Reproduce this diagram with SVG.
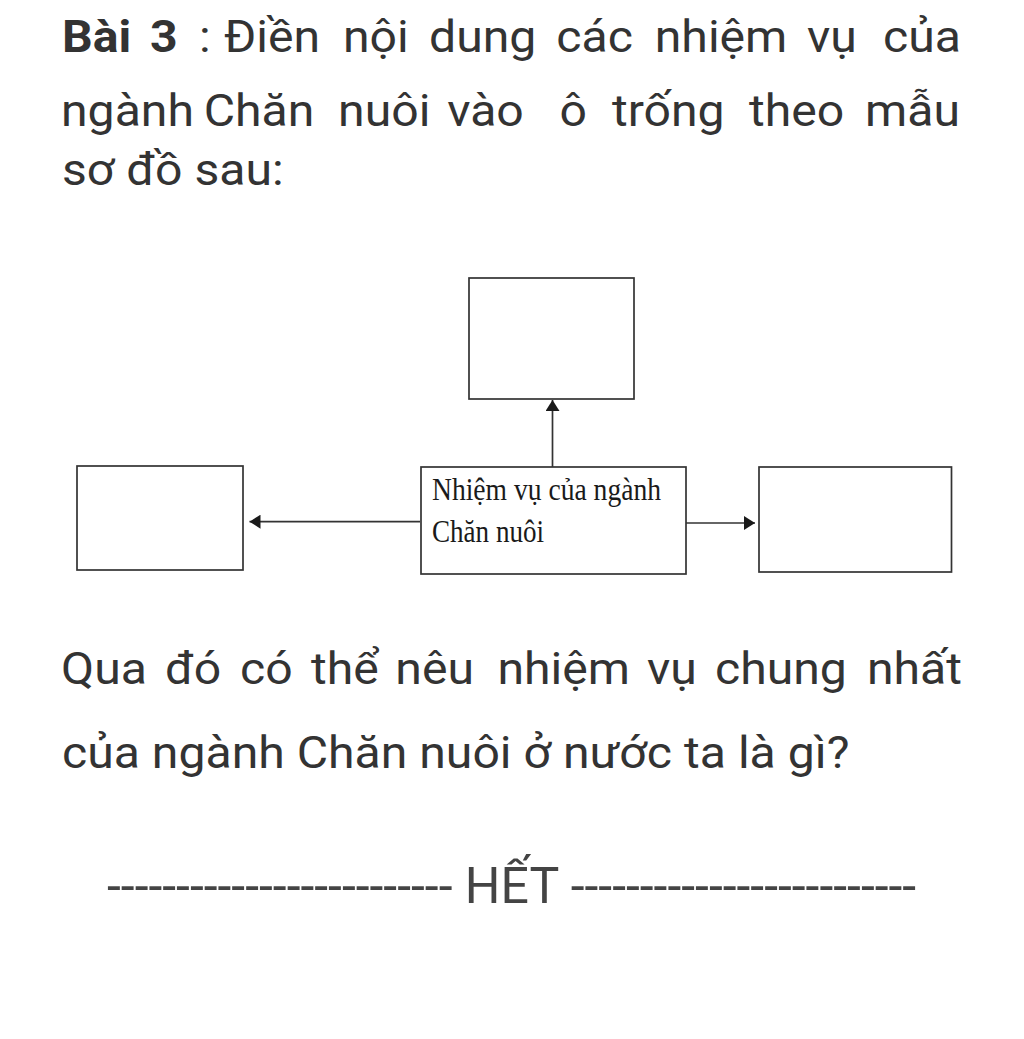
<svg xmlns="http://www.w3.org/2000/svg" width="1024" height="1039" viewBox="0 0 1024 1039">
<style>
.t{font-family:Roboto,"Noto Sans","Liberation Sans",sans-serif;font-size:45px;fill:#333}
.b{font-weight:bold}
.box{fill:#fff;stroke:#333;stroke-width:1.7}
.lbl{font-family:"Liberation Serif","Times New Roman",serif;font-size:31px;fill:#1a1a1a}
.con{stroke:#333;stroke-width:1.7;fill:none}
.end{font-family:Roboto,"Noto Sans","Liberation Sans",sans-serif;font-size:50px;fill:#444}
</style>
<defs>
<marker id="ah" markerUnits="userSpaceOnUse" markerWidth="12" markerHeight="14" refX="11" refY="7" orient="auto">
<path d="M0,0 L11,7 L0,14 Z" fill="#1a1a1a"/>
</marker>
</defs>
<rect width="1024" height="1039" fill="#fff"/>
<g id="heading" transform="matrix(1.07,0,0,1,-4.34,0)">
<text class="t" y="52.5"><tspan class="b" x="62">Bài</tspan><tspan class="b" x="144.2">3</tspan><tspan x="190">:</tspan><tspan x="213.4">Điền</tspan><tspan x="324.6">nội</tspan><tspan x="405">dung</tspan><tspan x="524">các</tspan><tspan x="616">nhiệm</tspan><tspan x="758.3">vụ</tspan><tspan x="829.3">của</tspan></text>
<text class="t" y="126"><tspan x="61.1">ngành</tspan><tspan x="194.5">Chăn</tspan><tspan x="320">nuôi</tspan><tspan x="422">vào</tspan><tspan x="527">ô</tspan><tspan x="576">trống</tspan><tspan x="704.1">theo</tspan><tspan x="812.5">mẫu</tspan></text>
<text class="t" x="62" y="185">sơ đồ sau:</text>
</g>
<g id="connectors">
<line class="con" x1="552.5" y1="467" x2="552.5" y2="400" marker-end="url(#ah)"/>
<line class="con" x1="420" y1="521.7" x2="249.5" y2="521.7" marker-end="url(#ah)"/>
<line class="con" x1="686" y1="523" x2="755" y2="523" marker-end="url(#ah)"/>
</g>
<g id="node-top"><rect class="box" x="469" y="278" width="165" height="121"/></g>
<g id="node-left"><rect class="box" x="77" y="466" width="166" height="104"/></g>
<g id="node-right"><rect class="box" x="759" y="467" width="192.5" height="105"/></g>
<g id="node-center">
<rect class="box" x="421" y="467" width="265" height="107"/>
<text class="lbl" x="432" y="500" textLength="229" lengthAdjust="spacingAndGlyphs">Nhiệm vụ của ngành</text>
<text class="lbl" x="432" y="542" textLength="112" lengthAdjust="spacingAndGlyphs">Chăn nuôi</text>
</g>
<g id="question" transform="matrix(1.07,0,0,1,-4.34,0)">
<text class="t" y="684"><tspan x="61.1">Qua</tspan><tspan x="158.3">đó</tspan><tspan x="228.4">có</tspan><tspan x="294.7">thể</tspan><tspan x="373.5">nêu</tspan><tspan x="469">nhiệm</tspan><tspan x="608.7">vụ</tspan><tspan x="672.3">chung</tspan><tspan x="814.3">nhất</tspan></text>
<text class="t" x="62" y="768">của ngành Chăn nuôi ở nước ta là gì?</text>
</g>
<g id="footer">
<text class="end" x="107" y="903">------------------------- HẾT -------------------------</text>
</g>
</svg>
